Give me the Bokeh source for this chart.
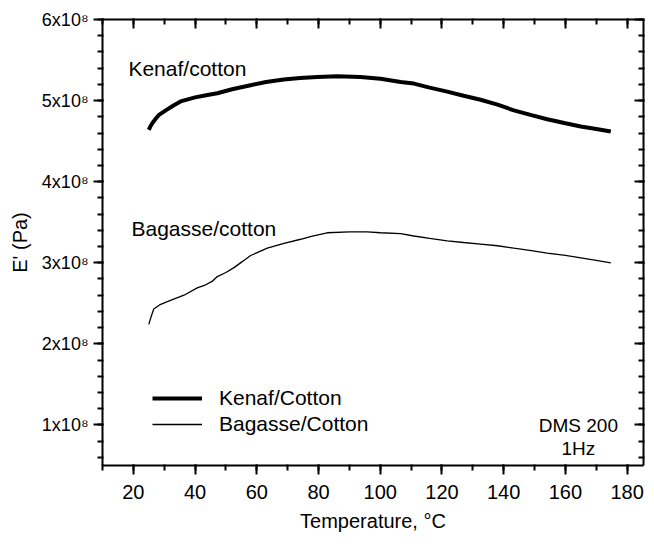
from bokeh.plotting import figure
from bokeh.models import (LinearAxis, SingleIntervalTicker, CustomJSTickFormatter, Range1d)
from bokeh.core.properties import value
from bokeh.embed import file_html
from bokeh.resources import INLINE

# ---- data ----
kenaf_T = [25.0, 25.5, 26.3, 27.3, 28.2, 30.5, 33.0, 35.3, 40.0, 44.0, 47.2, 52.0, 58.0,
           63.0, 68.7, 74.0, 79.6, 86.0, 93.6, 100.1, 106.6, 110.9, 116.0, 121.7,
           127.0, 132.5, 138.0, 143.3, 149.0, 154.1, 160.0, 165.0, 170.0, 174.7]
kenaf_E = [4.64e8, 4.68e8, 4.73e8, 4.78e8, 4.82e8, 4.88e8, 4.94e8, 4.99e8, 5.04e8, 5.07e8,
           5.09e8, 5.14e8, 5.19e8, 5.23e8, 5.26e8, 5.28e8, 5.29e8, 5.30e8, 5.29e8, 5.27e8,
           5.23e8, 5.21e8, 5.16e8, 5.11e8, 5.06e8, 5.01e8, 4.95e8, 4.88e8, 4.82e8, 4.77e8,
           4.72e8, 4.68e8, 4.65e8, 4.62e8]

bagasse_T = [25.0, 25.8, 26.6, 28.5, 31.0, 36.4, 40.7, 43.0, 45.5, 47.2, 50.0, 52.6,
             55.5, 58.0, 63.4, 68.8, 74.2, 78.0, 82.8, 90.0, 95.8, 100.1, 106.6, 110.9,
             116.0, 121.7, 127.0, 132.5, 138.0, 143.3, 149.0, 154.1, 160.0, 165.0, 170.0, 174.7]
bagasse_E = [2.24e8, 2.34e8, 2.43e8, 2.48e8, 2.52e8, 2.60e8, 2.69e8, 2.72e8, 2.77e8, 2.83e8,
             2.88e8, 2.94e8, 3.02e8, 3.09e8, 3.18e8, 3.24e8, 3.29e8, 3.33e8, 3.37e8, 3.38e8,
             3.38e8, 3.37e8, 3.36e8, 3.33e8, 3.30e8, 3.27e8, 3.25e8, 3.23e8, 3.21e8, 3.18e8,
             3.15e8, 3.12e8, 3.09e8, 3.06e8, 3.03e8, 3.00e8]

series_names = ["Kenaf/Cotton", "Bagasse/Cotton"]
curve_labels = ["Kenaf/cotton", "Bagasse/cotton"]
curve_label_x = [18.4, 19.4]
curve_label_y = [5.40e8, 3.42e8]
note_lines = ["DMS 200", "1Hz"]
note_x = [164.2, 164.2]
note_y = [0.99e8, 0.71e8]

FONT = "Liberation Sans"

p = figure(width=646, height=534, output_backend="svg", toolbar_location=None,
           x_range=Range1d(10, 185.3), y_range=Range1d(0.5e8, 6.0e8),
           min_border_left=102, min_border_right=3, min_border_top=19, min_border_bottom=67)
p.background_fill_color = "white"
p.border_fill_color = "white"
p.outline_line_color = None
p.xgrid.visible = False
p.ygrid.visible = False

xa = p.xaxis[0]
xa.ticker = SingleIntervalTicker(interval=20, num_minor_ticks=2)
xa.axis_label = "Temperature, \u00b0C"
ya = p.yaxis[0]
ya.ticker = SingleIntervalTicker(interval=1e8, num_minor_ticks=5)
ya.formatter = CustomJSTickFormatter(code="return (tick/1e8).toFixed(0) + 'x10\u2078';")
ya.axis_label = "E' (Pa)"

for ax in (xa, ya):
    ax.axis_line_color = "black"
    ax.axis_line_width = 2
    ax.major_tick_line_color = "black"
    ax.minor_tick_line_color = "black"
    ax.major_tick_line_width = 2
    ax.minor_tick_line_width = 2
    ax.major_tick_out = 9
    ax.major_tick_in = 1
    ax.minor_tick_out = 5
    ax.minor_tick_in = 1
    ax.major_label_text_font = FONT
    ax.major_label_text_color = "black"
    ax.axis_label_text_font = FONT
    ax.axis_label_text_font_size = "20px"
    ax.axis_label_text_font_style = "normal"
    ax.axis_label_text_color = "black"
xa.major_label_text_font_size = "20px"
ya.major_label_text_font_size = "18px"
xa.major_label_standoff = 10
xa.axis_label_standoff = 8
ya.major_label_standoff = 5
ya.axis_label_standoff = 8

# top and right mirror axes (ticks inward, labels not drawn)
top = LinearAxis(ticker=SingleIntervalTicker(interval=20, num_minor_ticks=2))
right = LinearAxis(ticker=SingleIntervalTicker(interval=1e8, num_minor_ticks=5))
for ax in (top, right):
    ax.axis_line_color = "black"
    ax.axis_line_width = 2
    ax.major_tick_line_color = "black"
    ax.minor_tick_line_color = "black"
    ax.major_tick_line_width = 2
    ax.minor_tick_line_width = 2
    ax.major_tick_out = 1
    ax.major_tick_in = 9
    ax.minor_tick_out = 1
    ax.minor_tick_in = 5
    ax.major_label_text_color = None
    ax.major_label_text_font_size = "1px"
    ax.major_label_standoff = 0
p.add_layout(top, "above")
p.add_layout(right, "right")

p.line(kenaf_T, kenaf_E, line_color="black", line_width=4, legend_label=series_names[0])
p.line(bagasse_T, bagasse_E, line_color="black", line_width=1.3, legend_label=series_names[1])

p.text(x=curve_label_x, y=curve_label_y, text=curve_labels, text_font=value(FONT),
       text_font_size="21px", text_baseline="middle", text_align="left", text_color="black")
p.text(x=note_x, y=note_y, text=note_lines, text_font=value(FONT),
       text_font_size="19px", text_baseline="middle", text_align="center", text_color="black")

lg = p.legend[0]
lg.location = (50, 29)
lg.margin = 0
lg.padding = 0
lg.spacing = 2
lg.border_line_color = None
lg.background_fill_alpha = 0
lg.glyph_width = 50
lg.glyph_height = 24
lg.label_height = 24
lg.label_standoff = 17
lg.label_text_font = FONT
lg.label_text_font_size = "21px"
lg.label_text_color = "black"

open("out.html", "w").write(file_html(p, INLINE))
